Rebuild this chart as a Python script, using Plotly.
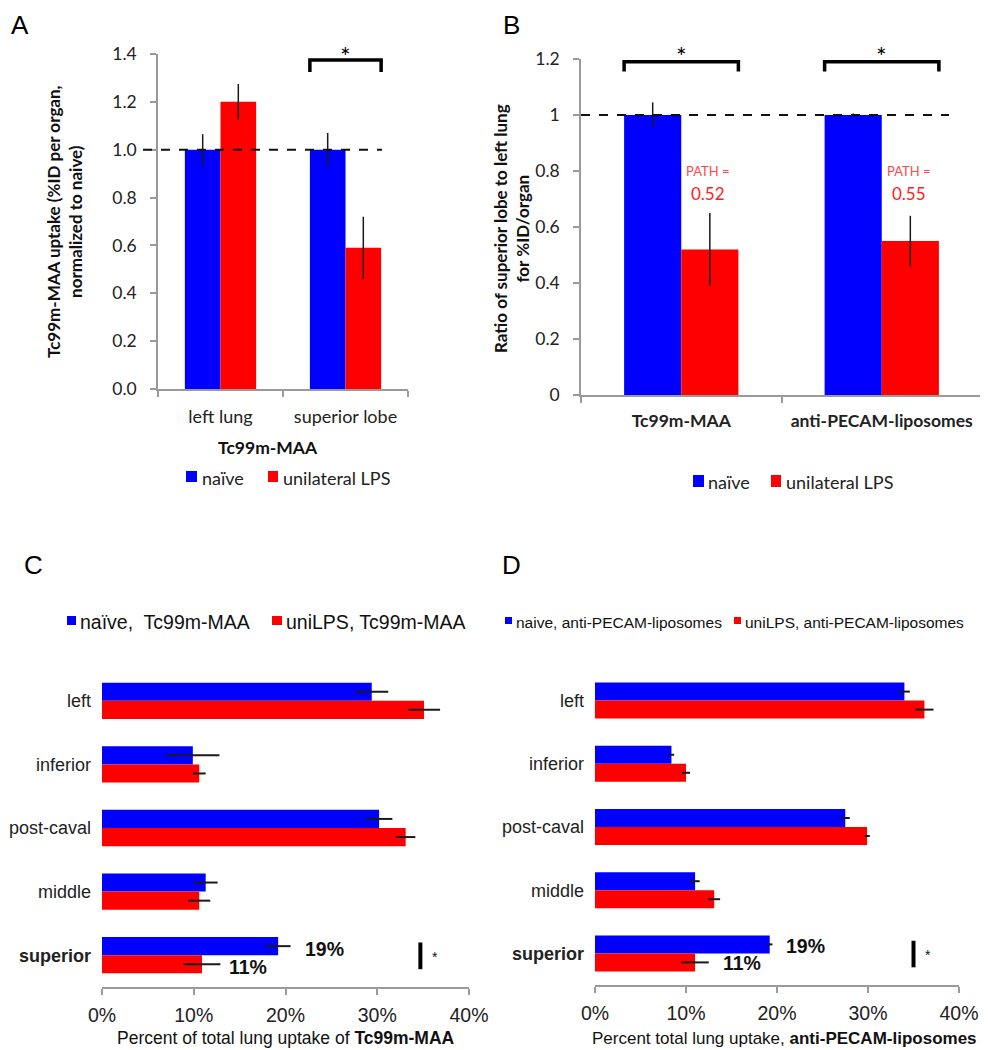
import plotly.graph_objects as go

# the page adds an 8 px body margin; the figure fills the rest of the window
OFF = 8
W, H = 988 - OFF, 1050 - OFF
def PX(x): return (x - OFF) / W
def PY(y): return 1 - (y - OFF) / H

BLUE = "#0000FF"
RED = "#FF0000"
GS = "Lato"
AR = "Liberation Sans"

# ---------- data ----------
a_categories = ["left lung", "superior lobe"]
a_naive = [1.0, 1.0]
a_naive_err = [0.065, 0.07]
a_lps = [1.2, 0.59]
a_lps_err = [0.075, 0.13]

b_categories = ["Tc99m-MAA", "anti-PECAM-liposomes"]
b_naive = [1.0, 1.0]
b_naive_err = [0.045, 0.005]
b_lps = [0.52, 0.55]
b_lps_err = [0.13, 0.09]
b_path_labels = ["0.52", "0.55"]

lobes = ["left", "inferior", "post-caval", "middle", "superior"]
lobe_ticktext = ["left", "inferior", "post-caval", "middle", "<b>superior</b>"]

c_naive = [29.4, 9.9, 30.2, 11.3, 19.2]
c_naive_err = [1.8, 2.9, 1.45, 1.3, 1.35]
c_lps = [35.1, 10.6, 33.1, 10.6, 10.9]
c_lps_err = [1.75, 0.7, 1.05, 1.2, 2.0]

d_naive = [34.0, 8.4, 27.5, 11.0, 19.2]
d_naive_err = [0.6, 0.3, 0.5, 0.5, 0.3]
d_lps = [36.2, 10.0, 29.9, 13.1, 11.0]
d_lps_err = [1.0, 0.45, 0.3, 0.65, 1.5]

pct_ticks = [0, 10, 20, 30, 40]
pct_ticktext = ["0%", "10%", "20%", "30%", "40%"]

fig = go.Figure()

def eb(arr, th=1.5):
    return dict(type="data", array=arr, visible=True, color="#1a1a1a", thickness=th, width=0)

# Panel A
fig.add_trace(go.Bar(x=a_categories, y=a_naive, marker_color=BLUE, marker_line_width=0,
                     error_y=eb(a_naive_err), xaxis="x", yaxis="y", showlegend=False))
fig.add_trace(go.Bar(x=a_categories, y=a_lps, marker_color=RED, marker_line_width=0,
                     error_y=eb(a_lps_err), xaxis="x", yaxis="y", showlegend=False))
# Panel B
fig.add_trace(go.Bar(x=b_categories, y=b_naive, marker_color=BLUE, marker_line_width=0,
                     error_y=eb(b_naive_err), xaxis="x2", yaxis="y2", showlegend=False))
fig.add_trace(go.Bar(x=b_categories, y=b_lps, marker_color=RED, marker_line_width=0,
                     error_y=eb(b_lps_err), xaxis="x2", yaxis="y2", showlegend=False))
# Panel C
fig.add_trace(go.Bar(y=lobes, x=c_naive, orientation="h", marker_color=BLUE, marker_line_width=0,
                     error_x=eb(c_naive_err, th=2), xaxis="x3", yaxis="y3", showlegend=False))
fig.add_trace(go.Bar(y=lobes, x=c_lps, orientation="h", marker_color=RED, marker_line_width=0,
                     error_x=eb(c_lps_err, th=2), xaxis="x3", yaxis="y3", showlegend=False))
# Panel D
fig.add_trace(go.Bar(y=lobes, x=d_naive, orientation="h", marker_color=BLUE, marker_line_width=0,
                     error_x=eb(d_naive_err, th=2), xaxis="x4", yaxis="y4", showlegend=False))
fig.add_trace(go.Bar(y=lobes, x=d_lps, orientation="h", marker_color=RED, marker_line_width=0,
                     error_x=eb(d_lps_err, th=2), xaxis="x4", yaxis="y4", showlegend=False))

AX = "#9a9a9a"
tickfontGS = dict(family=GS, size=17.5, color="#222")
tickfontAR = dict(family=AR, size=19.5, color="#222")
catfontAR = dict(family=AR, size=18, color="#222")
common = dict(showgrid=False, automargin=False, zeroline=False)

fig.update_layout(
    width=W, height=H, margin=dict(l=0, r=0, t=0, b=0, autoexpand=False),
    paper_bgcolor="white", plot_bgcolor="white",
    barmode="group", bargap=0.43, bargroupgap=0,
    showlegend=False,
    xaxis=dict(domain=[PX(158), PX(408)], type="category", showline=True, linecolor=AX, linewidth=1.5,
               ticks="outside", tickson="boundaries", ticklen=6, tickcolor=AX, tickwidth=1.5,
               tickfont=dict(family=GS, size=18, color="#222"), ticklabelstandoff=11, anchor="y", **common),
    yaxis=dict(domain=[PY(389), PY(54)], range=[0, 1.4], showline=True, linecolor=AX, linewidth=1.5,
               ticks="outside", ticklen=6, tickcolor=AX, tickwidth=1.5, tickvals=[0, 0.2, 0.4, 0.6, 0.8, 1.0, 1.2, 1.4],
               tickformat=".1f", tickfont=tickfontGS, ticklabelstandoff=10, anchor="x", **common),
    xaxis2=dict(domain=[PX(581), PX(982)], type="category", showline=True, linecolor=AX, linewidth=1.5,
                ticks="outside", tickson="boundaries", ticklen=6, tickcolor=AX, tickwidth=1.5,
                tickvals=b_categories, ticktext=["<b>" + c + "</b>" for c in b_categories],
                tickfont=dict(family=GS, size=17.5, color="#222"), ticklabelstandoff=9, anchor="y2", **common),
    yaxis2=dict(domain=[PY(395), PY(59)], range=[0, 1.2], showline=True, linecolor=AX, linewidth=1.5,
                ticks="outside", ticklen=6, tickcolor=AX, tickwidth=1.5,
                tickvals=[0, 0.2, 0.4, 0.6, 0.8, 1, 1.2], ticktext=["0", "0.2", "0.4", "0.6", "0.8", "1", "1.2"],
                tickfont=tickfontGS, ticklabelstandoff=10, anchor="x2", **common),
    xaxis3=dict(domain=[PX(102), PX(469)], range=[0, 40], showline=True, linecolor=AX, linewidth=1.5,
                ticks="outside", ticklen=6, tickcolor=AX, tickwidth=1.5, tickvals=pct_ticks, ticktext=pct_ticktext,
                tickfont=tickfontAR, ticklabelstandoff=4, anchor="y3", **common),
    yaxis3=dict(domain=[PY(987), PY(669)], type="category", autorange="reversed", showline=False,
                ticks="", tickvals=lobes, ticktext=lobe_ticktext, tickfont=catfontAR,
                ticklabelstandoff=10, anchor="x3", **common),
    xaxis4=dict(domain=[PX(595), PX(959)], range=[0, 40], showline=True, linecolor=AX, linewidth=1.5,
                ticks="outside", ticklen=6, tickcolor=AX, tickwidth=1.5, tickvals=pct_ticks, ticktext=pct_ticktext,
                tickfont=tickfontAR, ticklabelstandoff=4, anchor="y4", **common),
    yaxis4=dict(domain=[PY(985), PY(669)], type="category", autorange="reversed", showline=False,
                ticks="", tickvals=lobes, ticktext=lobe_ticktext, tickfont=catfontAR,
                ticklabelstandoff=10, anchor="x4", **common),
)

shapes = []
ann = []

def A(**kw):
    kw.setdefault("showarrow", False)
    kw.setdefault("xanchor", "center")
    kw.setdefault("yanchor", "middle")
    ann.append(kw)

# dashed reference lines at 1.0
shapes.append(dict(type="line", xref="paper", yref="y", x0=PX(143), x1=PX(382), y0=1.0, y1=1.0,
                   line=dict(color="#111", width=2, dash="dash"), layer="above"))
shapes.append(dict(type="line", xref="paper", yref="y2", x0=PX(581), x1=PX(949), y0=1.0, y1=1.0,
                   line=dict(color="#111", width=2, dash="dash"), layer="above"))

def bracket(xref, yref, xc, half, ylo, yhi):
    return dict(type="path", xref=xref, yref=yref,
                path=f"M {xc-half},{ylo} L {xc-half},{yhi} L {xc+half},{yhi} L {xc+half},{ylo}",
                line=dict(color="black", width=3.5))

shapes.append(bracket("x", "y", 1, 0.285, 1.325, 1.375))
A(xref="x", yref="paper", x=1, y=PY(56), text="*", font=dict(family=GS, size=25, color="black"))
for i in range(2):
    shapes.append(bracket("x2", "y2", i, 0.285, 1.155, 1.19))
    A(xref="x2", yref="paper", x=i, y=PY(56), text="*", font=dict(family=GS, size=25, color="black"))
    A(xref="x2", yref="y2", x=i + 0.135, y=0.80, text="PATH =", font=dict(family=GS, size=13, color="#ff4a4a"))
    A(xref="x2", yref="y2", x=i + 0.135, y=0.72, text=b_path_labels[i], font=dict(family=GS, size=17, color="#ff2020"))

# C / D superior annotations
for xr, yr, x19, x11, xs, sh19, sh11 in [("x3", "y3", 21.9, 13.6, 34.7, 6, -12),
                                         ("x4", "y4", 20.8, 13.8, 35.0, 7, -10)]:
    A(xref=xr, yref=yr, x=x19, y="superior", yshift=sh19, xanchor="left", text="<b>19%</b>",
      font=dict(family=AR, size=19.5, color="#111"))
    A(xref=xr, yref=yr, x=x11, y="superior", yshift=sh11, xanchor="left", text="<b>11%</b>",
      font=dict(family=AR, size=19.5, color="#111"))
    shapes.append(dict(type="line", xref=xr, yref=yr, x0=xs, x1=xs, y0=3.8, y1=4.22,
                       line=dict(color="black", width=4)))
    A(xref=xr, yref=yr, x=xs + 1.0, y="superior", yshift=-2, xanchor="left", text="*",
      font=dict(family=AR, size=14, color="#111"))

# axis titles
A(xref="paper", yref="paper", x=PX(64), y=PY(222), textangle=-90,
  text="<b>Tc99m-MAA uptake (%ID per organ,<br>normalized to naive)</b>",
  font=dict(family=GS, size=17, color="#111"))
A(xref="paper", yref="paper", x=PX(268), y=PY(448), text="<b>Tc99m-MAA</b>",
  font=dict(family=GS, size=17.5, color="#111"))
A(xref="paper", yref="paper", x=PX(511), y=PY(229), textangle=-90,
  text="<b>Ratio of superior lobe to left lung<br>for %ID/organ</b>",
  font=dict(family=GS, size=17, color="#111"))
A(xref="paper", yref="paper", x=PX(286), y=PY(1038),
  text="Percent of total lung uptake of <b>Tc99m-MAA</b>", font=dict(family=AR, size=17.5, color="#111"))
A(xref="paper", yref="paper", x=PX(784), y=PY(1038),
  text="Percent total lung uptake, <b>anti-PECAM-liposomes</b>", font=dict(family=AR, size=17, color="#111"))

# panel letters (kept fully inside the drawing area)
for letter, x, y, ya in [("A", 20, 8.5, "top"), ("B", 511, 8.5, "top"), ("C", 33, 565, "middle"), ("D", 511, 565, "middle")]:
    A(xref="paper", yref="paper", x=PX(x), y=PY(y), yanchor=ya, text=letter,
      font=dict(family=AR, size=26, color="black"))

# legends (manual)
def legend_item(x0, x1, y0, y1, color, tx, ty, text, font):
    shapes.append(dict(type="rect", xref="paper", yref="paper", x0=PX(x0), x1=PX(x1), y0=PY(y1), y1=PY(y0),
                       fillcolor=color, line=dict(width=0)))
    A(xref="paper", yref="paper", x=PX(tx), y=PY(ty), xanchor="left", text=text, font=font)

fGS = dict(family=GS, size=18, color="#222")
legend_item(186, 197, 471, 482, BLUE, 200, 478, "naïve", fGS)
legend_item(268, 278, 471, 482, RED, 281, 478, "unilateral LPS", fGS)
legend_item(693, 704, 475, 487, BLUE, 706, 482, "naïve", fGS)
legend_item(771, 781, 475, 487, RED, 784, 482, "unilateral LPS", fGS)
fC = dict(family=AR, size=19.5, color="#111")
legend_item(67, 76, 616, 625, BLUE, 78, 622, "naïve,  Tc99m-MAA", fC)
legend_item(272, 282, 616, 625, RED, 284, 622, "uniLPS, Tc99m-MAA", fC)
fD = dict(family=AR, size=15.5, color="#111")
legend_item(505, 512, 617, 624, BLUE, 514, 622, "naive, anti-PECAM-liposomes", fD)
legend_item(734, 741, 617, 624, RED, 743, 622, "uniLPS, anti-PECAM-liposomes", fD)

fig.update_layout(shapes=shapes, annotations=ann)
fig.write_html("out.html")
